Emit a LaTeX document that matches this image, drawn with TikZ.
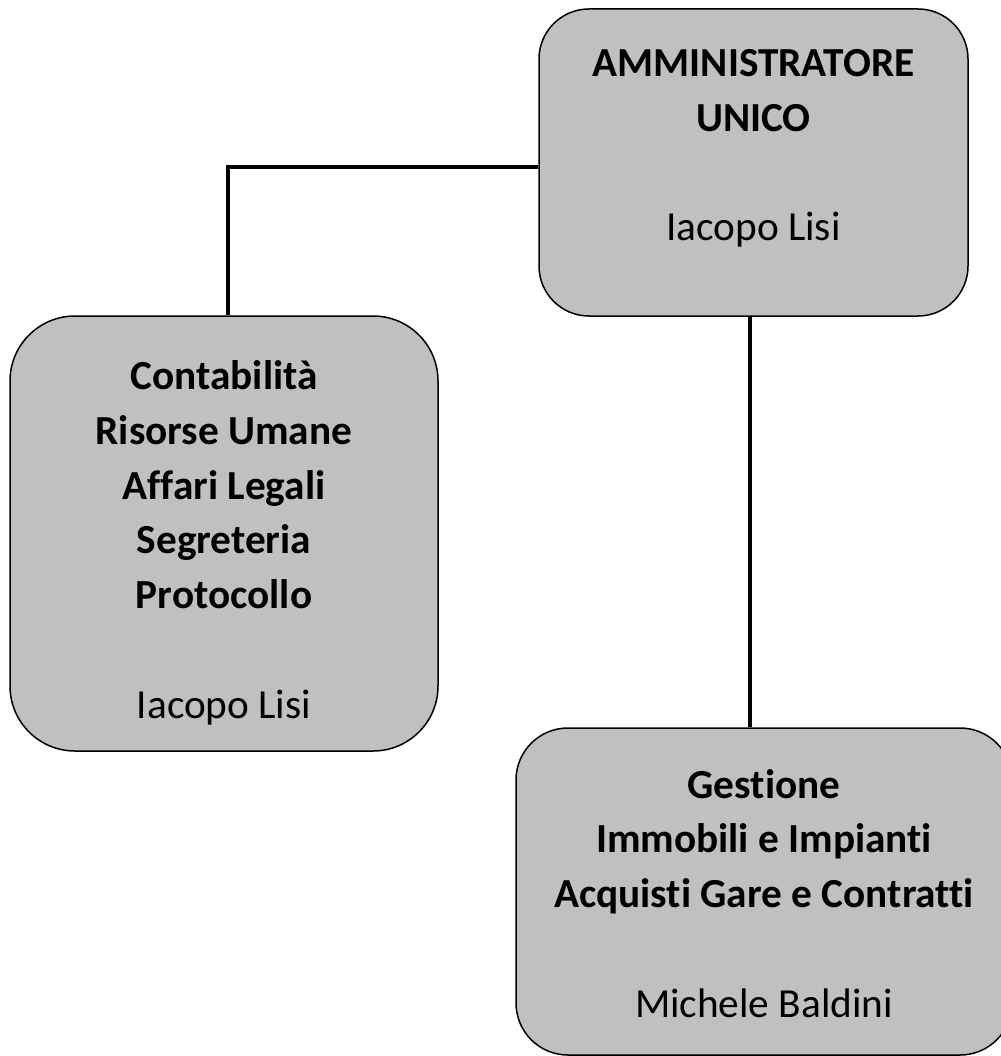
\documentclass[tikz,border=0pt]{standalone}
\usepackage{fontspec}
\setmainfont{Carlito}[Ligatures=NoCommon]
\definecolor{boxgray}{HTML}{C0C0C0}
\tikzset{
  orgbox/.style={draw=black, line width=1.5pt, fill=boxgray, rounded corners=#1, inner sep=0pt},
  conn/.style={draw=black, line width=4pt},
  txt/.style={align=center, inner sep=0pt, anchor=base, font=\fontsize{41.3}{54.7}\selectfont}
}
\begin{document}
\begin{tikzpicture}[x=1pt, y=-1pt]
\useasboundingbox (0,0) rectangle (1000,1056);
% boxes
\node[orgbox=50pt, minimum width=429pt, minimum height=307pt] (admin) at (753.5,162.5) {};
\node[orgbox=65pt, minimum width=428pt, minimum height=435pt] (staff) at (224,533.5) {};
\node[orgbox=52pt, minimum width=496pt, minimum height=327pt] (ops) at (764,891.5) {};
% connectors
\draw[conn] ([xshift=4pt]staff.north) |- ([yshift=-4.5pt]admin.west);
\draw[conn] ([xshift=-3.5pt]admin.south) -- ([xshift=-3.5pt]admin.south |- ops.north);
% texts (anchored at the baseline of the last line)
\node[txt] (admintxt) at (753.5,241) {\textbf{AMMINISTRATORE}\\\textbf{UNICO}\\[54.7pt]Iacopo Lisi};
\node[txt] (stafftxt) at (224,718) {\textbf{Contabilità}\\\textbf{Risorse Umane}\\\textbf{Affari Legali}\\\textbf{Segreteria}\\\textbf{Protocollo}\\[54.7pt]Iacopo Lisi};
\node[txt] (opstxt) at (764,1017) {\textbf{Gestione}\\\textbf{Immobili e Impianti}\\\textbf{Acquisti Gare e Contratti}\\[54.7pt]Michele Baldini};
\end{tikzpicture}
\end{document}
